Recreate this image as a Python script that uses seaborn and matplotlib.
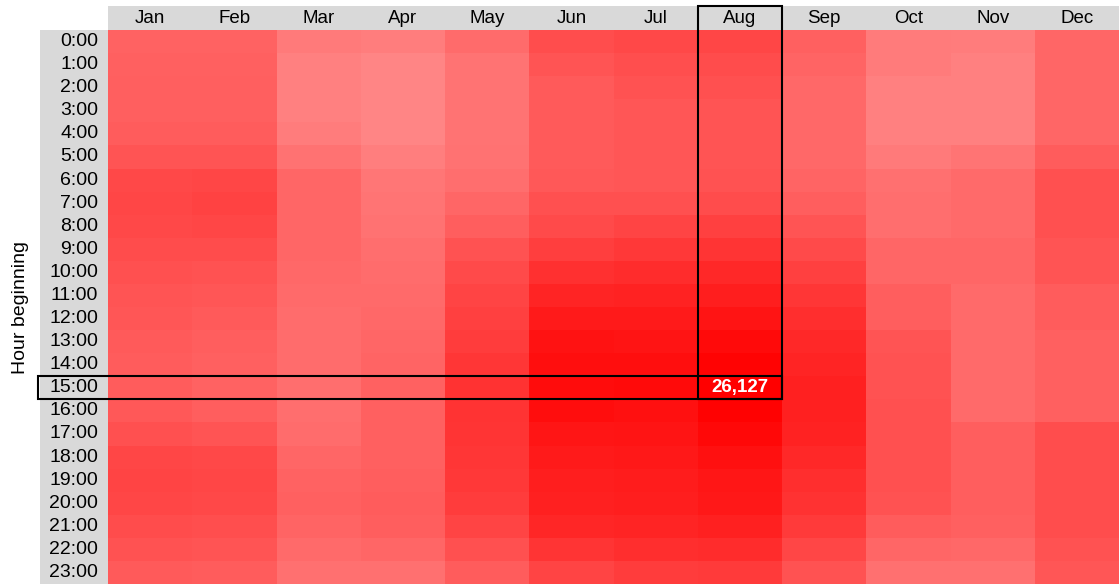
import numpy as np
import pandas as pd
import seaborn as sns
import matplotlib.pyplot as plt
from matplotlib.colors import LinearSegmentedColormap
from matplotlib.patches import Rectangle

# Average hourly load (MW) by month and hour of day
months = ["Jan", "Feb", "Mar", "Apr", "May", "Jun",
          "Jul", "Aug", "Sep", "Oct", "Nov", "Dec"]
hours = ["0:00", "1:00", "2:00", "3:00", "4:00", "5:00", "6:00", "7:00",
         "8:00", "9:00", "10:00", "11:00", "12:00", "13:00", "14:00", "15:00",
         "16:00", "17:00", "18:00", "19:00", "20:00", "21:00", "22:00", "23:00"]

load_jan = [16090, 16290, 16390, 16390, 16700, 17520, 18750, 18960, 18750, 18340, 17930, 17520,
            17320, 16910, 16700, 16700, 17110, 17930, 18960, 19160, 18960, 18340, 17730, 16910]
load_feb = [16090, 16290, 16390, 16390, 16700, 17520, 18960, 19370, 18960, 18340, 17730, 17320,
            16910, 16500, 16290, 16090, 16500, 17520, 18750, 18960, 18750, 18140, 17520, 16700]
load_mar = [13630, 13010, 13010, 13010, 13420, 14450, 15680, 15680, 15680, 15680, 15470, 15270,
            15060, 15060, 15060, 14860, 14860, 15060, 15680, 16090, 16290, 15880, 15270, 14650]
load_apr = [13320, 12500, 12500, 12500, 12500, 13220, 14040, 14240, 14450, 14860, 15060, 15270,
            15470, 15680, 15880, 16190, 16290, 16290, 16290, 16500, 16700, 16500, 15680, 14650]
load_may = [15160, 14350, 14350, 14350, 14350, 14450, 14860, 15680, 16500, 17730, 18550, 19160,
            19570, 19980, 20600, 21010, 20900, 20800, 20600, 20390, 19980, 19160, 17930, 16700]
load_jun = [18240, 17520, 16910, 16910, 16910, 16910, 17110, 17930, 18550, 19780, 21210, 22440,
            23460, 24280, 24690, 24900, 24800, 23980, 23460, 23050, 22850, 22230, 20800, 19160]
load_jul = [18750, 18140, 17730, 17320, 17320, 17320, 17320, 17930, 19160, 20390, 21620, 22640,
            23460, 24080, 24690, 25100, 24490, 24080, 23670, 23260, 23050, 22440, 21410, 19980]
load_aug = [18960, 18340, 17930, 17520, 17520, 17520, 17730, 18340, 19570, 20800, 22030, 23050,
            24080, 25100, 25720, 26127, 25920, 25310, 24490, 23870, 23670, 22850, 21620, 20190]
load_sep = [16290, 15880, 15470, 15470, 15470, 15470, 15880, 16500, 17520, 18550, 19570, 20590,
            21410, 22030, 22440, 22850, 22850, 22640, 22030, 21410, 21000, 20190, 18960, 17730]
load_oct = [13520, 13520, 13010, 13010, 13010, 13630, 14650, 14860, 14860, 15680, 15680, 16500,
            16500, 17520, 17730, 17730, 17930, 17930, 17930, 17930, 17730, 16700, 15680, 14650]
load_nov = [13420, 13010, 13010, 13010, 13010, 14240, 15270, 15270, 15270, 15680, 15680, 15270,
            15270, 15270, 15270, 15270, 15270, 16500, 16500, 16500, 16500, 16290, 15470, 14650]
load_dec = [15680, 15680, 15680, 15680, 15680, 16700, 17930, 17930, 17930, 17520, 17520, 16700,
            16700, 16290, 16290, 16290, 16290, 18240, 18240, 18240, 18240, 18240, 17730, 17320]

series = [load_jan, load_feb, load_mar, load_apr, load_may, load_jun,
          load_jul, load_aug, load_sep, load_oct, load_nov, load_dec]
df = pd.DataFrame({m: s for m, s in zip(months, series)}, index=hours)

peak_month, peak_hour = "Aug", "15:00"
annot = pd.DataFrame("", index=hours, columns=months)
annot.loc[peak_hour, peak_month] = f"{df.loc[peak_hour, peak_month]:,}"

sns.set_style("white")
plt.rcParams["font.family"] = ["Liberation Sans", "DejaVu Sans"]

W, H = 1119, 584
fig = plt.figure(figsize=(W / 100, H / 100), dpi=100)
ax = fig.add_axes([108 / W, 0, 1011 / W, 554 / H])

cmap = LinearSegmentedColormap.from_list("load", ["#FFFFFF", "#FF0000"])
sns.heatmap(df, ax=ax, cmap=cmap, vmin=0, vmax=df.values.max(), cbar=False,
            annot=annot.values, fmt="", linewidths=0,
            annot_kws=dict(color="white", fontsize=13.5, fontweight="bold"),
            xticklabels=months, yticklabels=hours)

# header band and row-label band
head_h = 24 / 23.08
side_w = 68 / 84.25
ax.add_patch(Rectangle((0, -head_h), 12, head_h, facecolor="#D9D9D9",
                       edgecolor="none", clip_on=False, zorder=0.5))
ax.add_patch(Rectangle((-side_w, 0), side_w, 24, facecolor="#D9D9D9",
                       edgecolor="none", clip_on=False, zorder=0.5))

# crosshair boxes around the peak month and peak hour
ci = months.index(peak_month)
ri = hours.index(peak_hour)
ax.add_patch(Rectangle((ci, -head_h), 1, ri + 1 + head_h, fill=False,
                       edgecolor="black", lw=1.5, clip_on=False, zorder=5))
row_left = 70 / 84.25
ax.add_patch(Rectangle((-row_left, ri), ci + 1 + row_left, 1, fill=False,
                       edgecolor="black", lw=1.5, clip_on=False, zorder=5))

ax.tick_params(axis="x", top=True, bottom=False, labeltop=True, labelbottom=False,
               length=0, pad=2, labelsize=13.5, labelcolor="black")
ax.tick_params(axis="y", length=0, pad=7, labelsize=14, labelrotation=0, labelcolor="black")
ax.set_xlabel("")
ax.set_ylabel("Hour beginning", fontsize=14, color="black")
ax.yaxis.set_label_coords(-0.078, 0.5)

fig.savefig("out.png", dpi=100)
